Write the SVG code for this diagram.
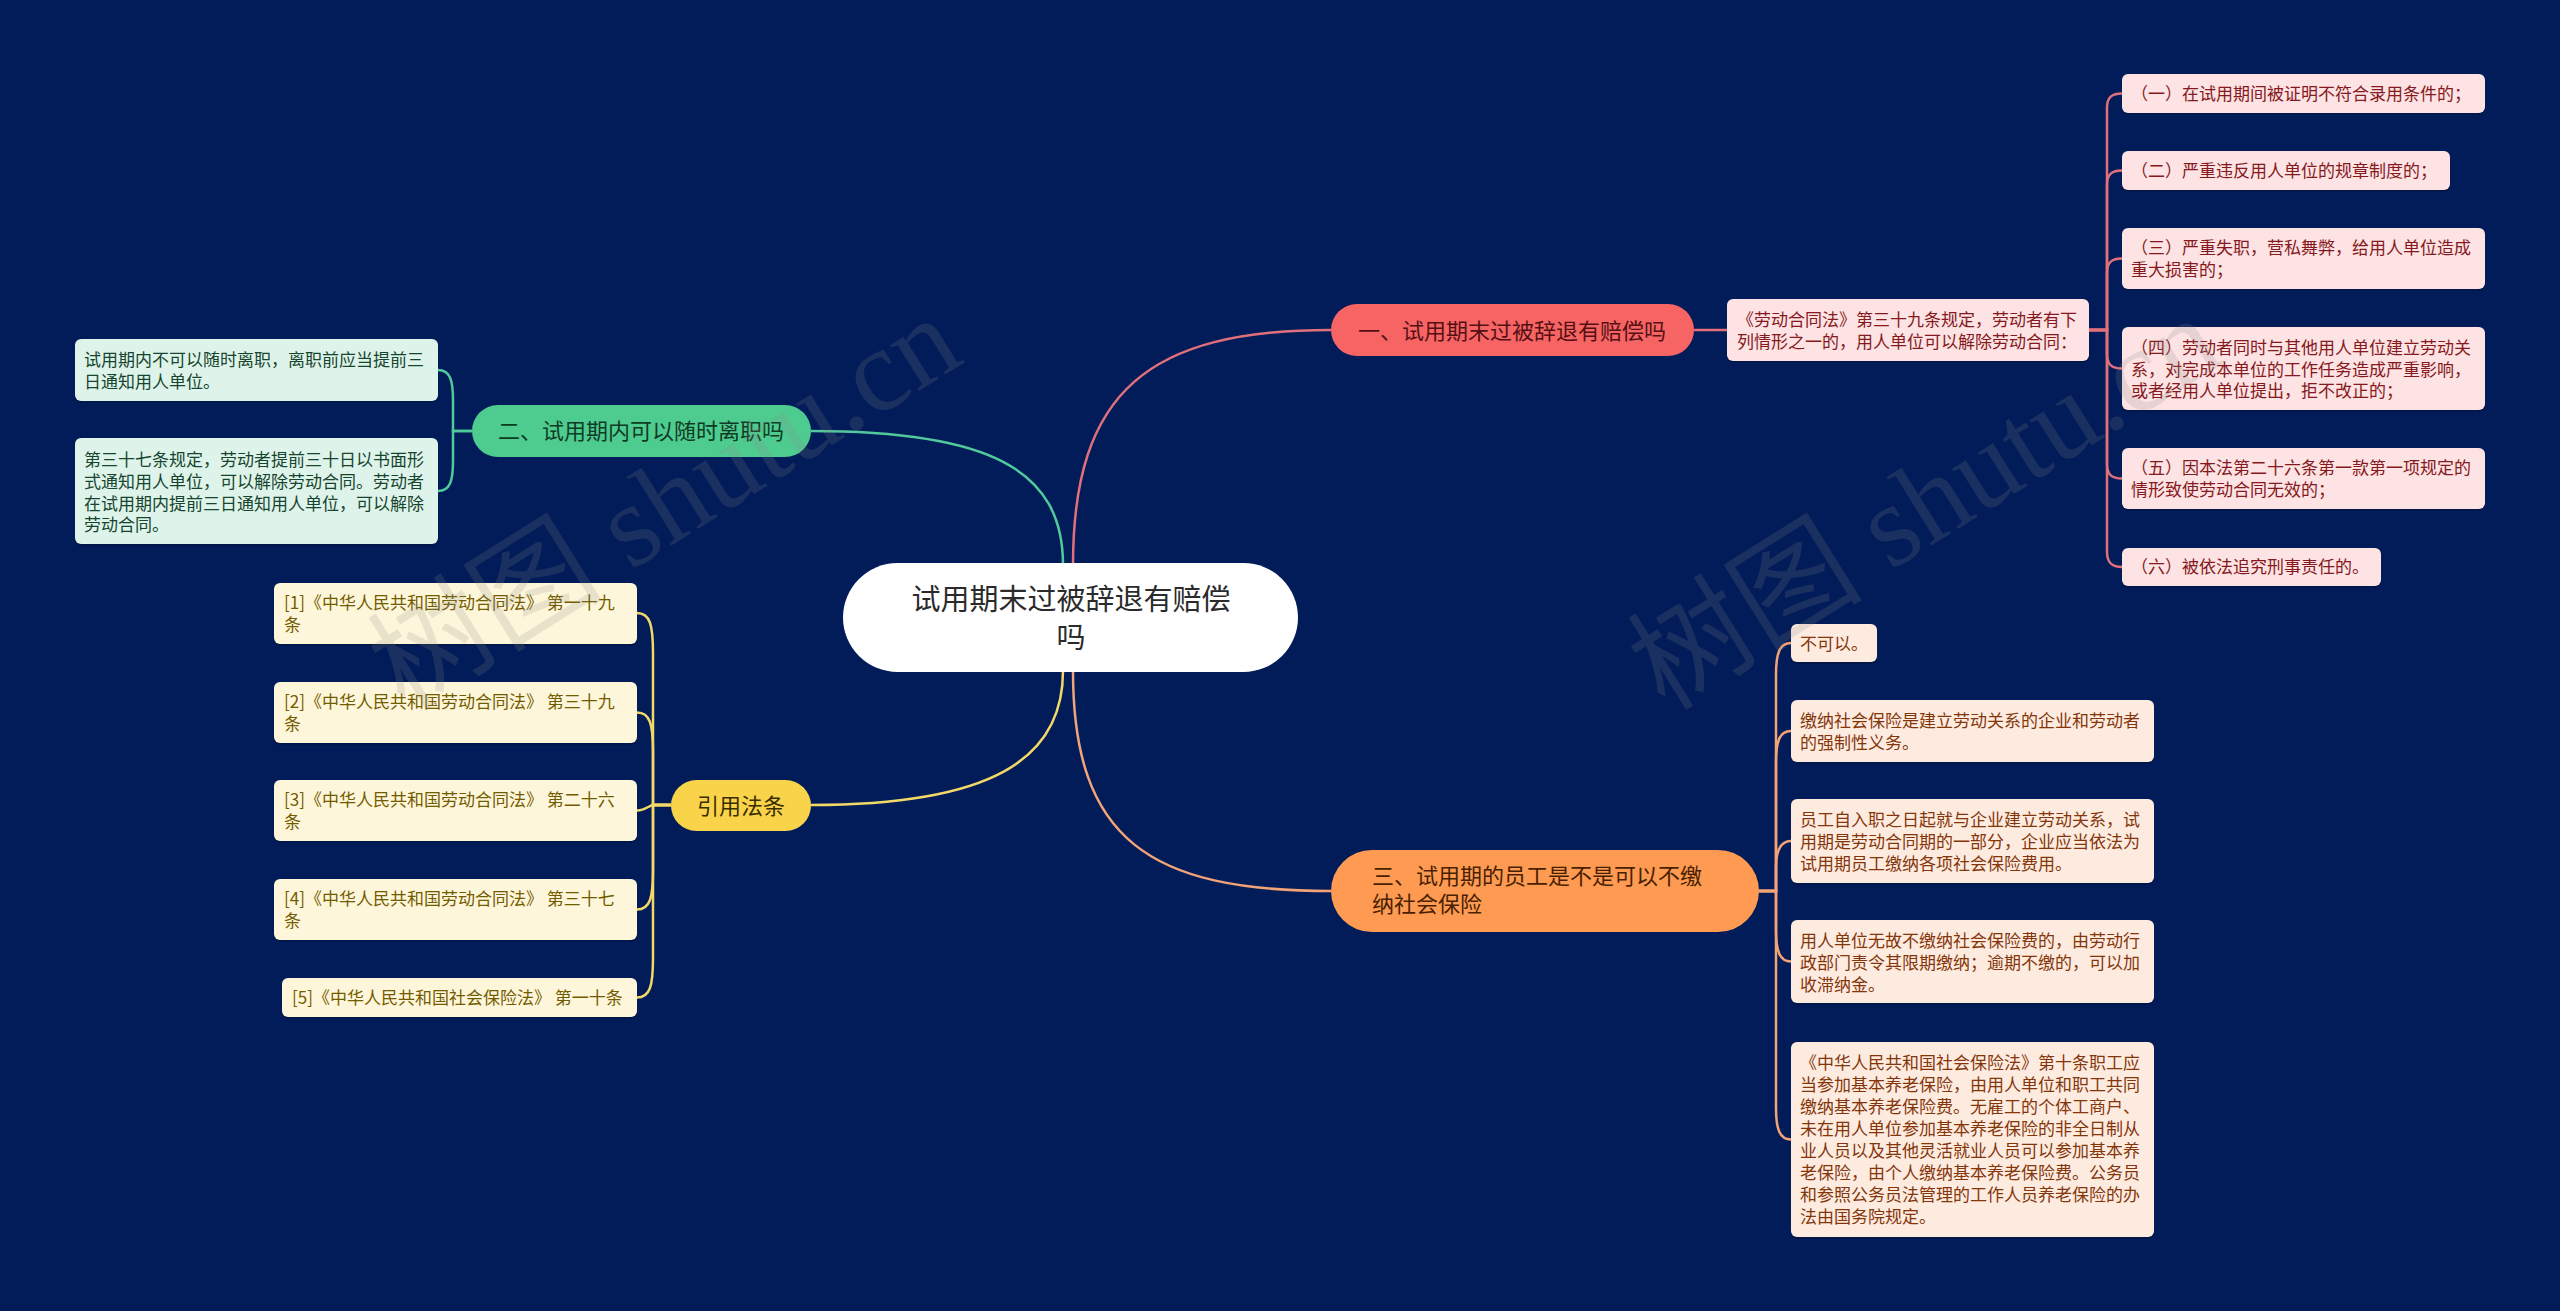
<svg xmlns="http://www.w3.org/2000/svg" width="2560" height="1311" viewBox="0 0 2560 1311">
<style>
text{font-family:"Noto Sans CJK SC","Noto Sans",sans-serif;}
.leaf{font-size:17px;}
.br{font-size:22px;}
.c-red{fill:none;stroke:#e2707c;stroke-width:2.5;}
.c-green{fill:none;stroke:#52c99c;stroke-width:2.5;}
.c-yellow{fill:none;stroke:#f2d866;stroke-width:2.5;}
.c-orange{fill:none;stroke:#f2a377;stroke-width:2.5;}
.r-leaf{fill:#fde3e4;}
.g-leaf{fill:#def4ea;}
.y-leaf{fill:#fef6da;}
.o-leaf{fill:#feebe0;}
.r-t{fill:#861820;}
.g-t{fill:#17442e;}
.y-t{fill:#735c00;}
.o-t{fill:#84360a;}
.shadow{fill:#000;opacity:0.18;}
.wm{font-family:"Liberation Serif","Noto Sans CJK SC",serif;font-size:118px;fill:#8a8a8a;opacity:0.18;}
</style>
<rect x="0" y="0" width="2560" height="1311" fill="#021c59"/>

<g id="connectors">
  <path class="c-red" d="M1073 565 C1073 390 1150 330 1331 330"/>
  <path class="c-green" d="M1063 565 C1063 470 990 431 811 431"/>
  <path class="c-yellow" d="M1063 671 C1063 760 990 805 811 805"/>
  <path class="c-orange" d="M1073 671 C1073 840 1150 891 1331 891"/>
  <path class="c-red" d="M1694 330 H1727"/>
  <path class="c-red" stroke-width="2" d="M2089 330 H2107 V108 C2107 97 2112 93.5 2122 93.5"/>
  <path class="c-red" stroke-width="2" d="M2089 330 H2107 V185 C2107 174 2112 170.5 2122 170.5"/>
  <path class="c-red" stroke-width="2" d="M2089 330 H2107 V273 C2107 262 2112 258.5 2122 258.5"/>
  <path class="c-red" stroke-width="2" d="M2089 330 H2107 V354 C2107 365 2112 368.5 2122 368.5"/>
  <path class="c-red" stroke-width="2" d="M2089 330 H2107 V464 C2107 475 2112 478.5 2122 478.5"/>
  <path class="c-red" stroke-width="2" d="M2089 330 H2107 V552 C2107 563 2112 567 2122 567"/>
  <path class="c-green" stroke-width="2" d="M472 431 H453 V400 C453 380 450 370 438 370"/>
  <path class="c-green" stroke-width="2" d="M472 431 H453 V461 C453 481 450 491 438 491"/>
  <path class="c-yellow" stroke-width="2" d="M671 805 H653 V653 C653 625 650 613 637 613"/>
  <path class="c-yellow" stroke-width="2" d="M671 805 H653 V752 C653 724 650 712.5 637 712.5"/>
  <path class="c-yellow" stroke-width="2" d="M671 805 H653 C650 805 645 810.5 637 810.5"/>
  <path class="c-yellow" stroke-width="2" d="M671 805 H653 V870 C653 898 650 909.5 637 909.5"/>
  <path class="c-yellow" stroke-width="2" d="M671 805 H653 V958 C653 986 650 997.5 637 997.5"/>
  <path class="c-orange" stroke-width="2" d="M1759 891 H1776 V675 C1776 652 1780 643 1791 643"/>
  <path class="c-orange" stroke-width="2" d="M1759 891 H1776 V763 C1776 740 1780 731 1791 731"/>
  <path class="c-orange" stroke-width="2" d="M1759 891 H1776 V868 C1776 852 1780 841 1791 841"/>
  <path class="c-orange" stroke-width="2" d="M1759 891 H1776 V930 C1776 952 1780 961.5 1791 961.5"/>
  <path class="c-orange" stroke-width="2" d="M1759 891 H1776 V1108 C1776 1130 1780 1139.5 1791 1139.5"/>
</g>

<g id="root">
  <rect x="843" y="563" width="455" height="109" rx="54.5" fill="#ffffff"/>
  <text x="1071" y="610" font-size="29" fill="#2b2b2b" text-anchor="middle">试用期末过被辞退有赔偿</text>
  <text x="1071" y="648" font-size="29" fill="#2b2b2b" text-anchor="middle">吗</text>
</g>

<g id="branch1">
  <rect x="1331" y="304" width="363" height="52" rx="26" fill="#f76464"/>
  <text class="br" x="1512" y="339" fill="#561014" text-anchor="middle">一、试用期末过被辞退有赔偿吗</text>
</g>
<g id="b1-law">
  <rect class="shadow" x="1727" y="301" width="362" height="62" rx="6"/>
  <rect class="r-leaf" x="1727" y="299" width="362" height="62" rx="6"/>
  <text class="leaf r-t" x="1737" y="326">《劳动合同法》第三十九条规定，劳动者有下</text>
  <text class="leaf r-t" x="1737" y="348">列情形之一的，用人单位可以解除劳动合同：</text>
</g>
<g id="b1-1">
  <rect class="shadow" x="2122" y="76" width="363" height="39" rx="6"/>
  <rect class="r-leaf" x="2122" y="74" width="363" height="39" rx="6"/>
  <text class="leaf r-t" x="2131" y="100">（一）在试用期间被证明不符合录用条件的；</text>
</g>
<g id="b1-2">
  <rect class="shadow" x="2122" y="153" width="328" height="39" rx="6"/>
  <rect class="r-leaf" x="2122" y="151" width="328" height="39" rx="6"/>
  <text class="leaf r-t" x="2131" y="177">（二）严重违反用人单位的规章制度的；</text>
</g>
<g id="b1-3">
  <rect class="shadow" x="2122" y="230" width="363" height="61" rx="6"/>
  <rect class="r-leaf" x="2122" y="228" width="363" height="61" rx="6"/>
  <text class="leaf r-t" x="2131" y="254">（三）严重失职，营私舞弊，给用人单位造成</text>
  <text class="leaf r-t" x="2131" y="276">重大损害的；</text>
</g>
<g id="b1-4">
  <rect class="shadow" x="2122" y="329" width="363" height="83" rx="6"/>
  <rect class="r-leaf" x="2122" y="327" width="363" height="83" rx="6"/>
  <text class="leaf r-t" x="2131" y="354">（四）劳动者同时与其他用人单位建立劳动关</text>
  <text class="leaf r-t" x="2131" y="376">系，对完成本单位的工作任务造成严重影响，</text>
  <text class="leaf r-t" x="2131" y="397">或者经用人单位提出，拒不改正的；</text>
</g>
<g id="b1-5">
  <rect class="shadow" x="2122" y="450" width="363" height="61" rx="6"/>
  <rect class="r-leaf" x="2122" y="448" width="363" height="61" rx="6"/>
  <text class="leaf r-t" x="2131" y="474">（五）因本法第二十六条第一款第一项规定的</text>
  <text class="leaf r-t" x="2131" y="496">情形致使劳动合同无效的；</text>
</g>
<g id="b1-6">
  <rect class="shadow" x="2122" y="550" width="259" height="38" rx="6"/>
  <rect class="r-leaf" x="2122" y="548" width="259" height="38" rx="6"/>
  <text class="leaf r-t" x="2131" y="573">（六）被依法追究刑事责任的。</text>
</g>

<g id="branch2">
  <rect x="472" y="405" width="339" height="52" rx="26" fill="#4ecb8f"/>
  <text class="br" x="641" y="439" fill="#0f3b25" text-anchor="middle">二、试用期内可以随时离职吗</text>
</g>
<g id="b2-1">
  <rect class="shadow" x="75" y="341" width="363" height="62" rx="6"/>
  <rect class="g-leaf" x="75" y="339" width="363" height="62" rx="6"/>
  <text class="leaf g-t" x="84" y="366">试用期内不可以随时离职，离职前应当提前三</text>
  <text class="leaf g-t" x="84" y="388">日通知用人单位。</text>
</g>
<g id="b2-2">
  <rect class="shadow" x="75" y="440" width="363" height="106" rx="6"/>
  <rect class="g-leaf" x="75" y="438" width="363" height="106" rx="6"/>
  <text class="leaf g-t" x="84" y="466">第三十七条规定，劳动者提前三十日以书面形</text>
  <text class="leaf g-t" x="84" y="488">式通知用人单位，可以解除劳动合同。劳动者</text>
  <text class="leaf g-t" x="84" y="510">在试用期内提前三日通知用人单位，可以解除</text>
  <text class="leaf g-t" x="84" y="531">劳动合同。</text>
</g>

<g id="branch3">
  <rect x="671" y="780" width="140" height="51" rx="25.5" fill="#f9d44a"/>
  <text class="br" x="741" y="814" fill="#3a2d00" text-anchor="middle">引用法条</text>
</g>
<g id="b3-1">
  <rect class="shadow" x="274" y="585" width="363" height="61" rx="6"/>
  <rect class="y-leaf" x="274" y="583" width="363" height="61" rx="6"/>
  <text class="leaf y-t" x="284" y="609">[1]《中华人民共和国劳动合同法》 第一十九</text>
  <text class="leaf y-t" x="284" y="631">条</text>
</g>
<g id="b3-2">
  <rect class="shadow" x="274" y="684" width="363" height="61" rx="6"/>
  <rect class="y-leaf" x="274" y="682" width="363" height="61" rx="6"/>
  <text class="leaf y-t" x="284" y="708">[2]《中华人民共和国劳动合同法》 第三十九</text>
  <text class="leaf y-t" x="284" y="730">条</text>
</g>
<g id="b3-3">
  <rect class="shadow" x="274" y="782" width="363" height="61" rx="6"/>
  <rect class="y-leaf" x="274" y="780" width="363" height="61" rx="6"/>
  <text class="leaf y-t" x="284" y="806">[3]《中华人民共和国劳动合同法》 第二十六</text>
  <text class="leaf y-t" x="284" y="828">条</text>
</g>
<g id="b3-4">
  <rect class="shadow" x="274" y="881" width="363" height="61" rx="6"/>
  <rect class="y-leaf" x="274" y="879" width="363" height="61" rx="6"/>
  <text class="leaf y-t" x="284" y="905">[4]《中华人民共和国劳动合同法》 第三十七</text>
  <text class="leaf y-t" x="284" y="927">条</text>
</g>
<g id="b3-5">
  <rect class="shadow" x="282" y="980" width="355" height="39" rx="6"/>
  <rect class="y-leaf" x="282" y="978" width="355" height="39" rx="6"/>
  <text class="leaf y-t" x="292" y="1004">[5]《中华人民共和国社会保险法》 第一十条</text>
</g>

<g id="branch4">
  <rect x="1331" y="850" width="428" height="82" rx="41" fill="#fe9a51"/>
  <text class="br" x="1372" y="884" fill="#4a1f02">三、试用期的员工是不是可以不缴</text>
  <text class="br" x="1372" y="912" fill="#4a1f02">纳社会保险</text>
</g>
<g id="b4-1">
  <rect class="shadow" x="1791" y="626" width="86" height="38" rx="6"/>
  <rect class="o-leaf" x="1791" y="624" width="86" height="38" rx="6"/>
  <text class="leaf o-t" x="1800" y="650">不可以。</text>
</g>
<g id="b4-2">
  <rect class="shadow" x="1791" y="702" width="363" height="62" rx="6"/>
  <rect class="o-leaf" x="1791" y="700" width="363" height="62" rx="6"/>
  <text class="leaf o-t" x="1800" y="727">缴纳社会保险是建立劳动关系的企业和劳动者</text>
  <text class="leaf o-t" x="1800" y="749">的强制性义务。</text>
</g>
<g id="b4-3">
  <rect class="shadow" x="1791" y="801" width="363" height="84" rx="6"/>
  <rect class="o-leaf" x="1791" y="799" width="363" height="84" rx="6"/>
  <text class="leaf o-t" x="1800" y="826">员工自入职之日起就与企业建立劳动关系，试</text>
  <text class="leaf o-t" x="1800" y="848">用期是劳动合同期的一部分，企业应当依法为</text>
  <text class="leaf o-t" x="1800" y="870">试用期员工缴纳各项社会保险费用。</text>
</g>
<g id="b4-4">
  <rect class="shadow" x="1791" y="922" width="363" height="83" rx="6"/>
  <rect class="o-leaf" x="1791" y="920" width="363" height="83" rx="6"/>
  <text class="leaf o-t" x="1800" y="947">用人单位无故不缴纳社会保险费的，由劳动行</text>
  <text class="leaf o-t" x="1800" y="969">政部门责令其限期缴纳；逾期不缴的，可以加</text>
  <text class="leaf o-t" x="1800" y="991">收滞纳金。</text>
</g>
<g id="b4-5">
  <rect class="shadow" x="1791" y="1044" width="363" height="195" rx="6"/>
  <rect class="o-leaf" x="1791" y="1042" width="363" height="195" rx="6"/>
  <text class="leaf o-t" x="1800" y="1069">《中华人民共和国社会保险法》第十条职工应</text>
  <text class="leaf o-t" x="1800" y="1091">当参加基本养老保险，由用人单位和职工共同</text>
  <text class="leaf o-t" x="1800" y="1113">缴纳基本养老保险费。无雇工的个体工商户、</text>
  <text class="leaf o-t" x="1800" y="1135">未在用人单位参加基本养老保险的非全日制从</text>
  <text class="leaf o-t" x="1800" y="1157">业人员以及其他灵活就业人员可以参加基本养</text>
  <text class="leaf o-t" x="1800" y="1179">老保险，由个人缴纳基本养老保险费。公务员</text>
  <text class="leaf o-t" x="1800" y="1201">和参照公务员法管理的工作人员养老保险的办</text>
  <text class="leaf o-t" x="1800" y="1223">法由国务院规定。</text>
</g>

<g id="watermarks">
  <text class="wm" transform="translate(405,712) rotate(-32)">树图 shutu.cn</text>
  <text class="wm" transform="translate(1665,712) rotate(-32)">树图 shutu.cn</text>
</g>
</svg>
